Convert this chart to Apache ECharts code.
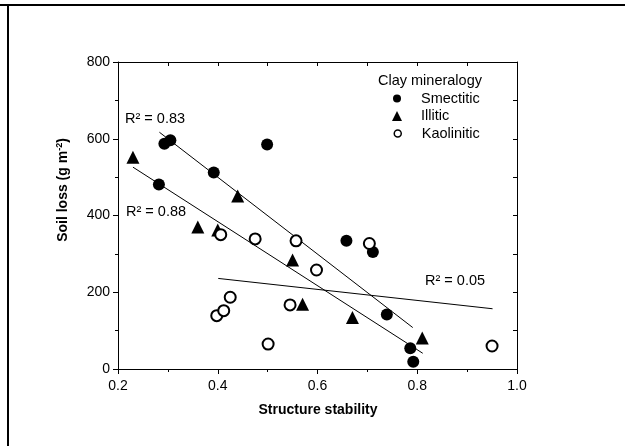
<!DOCTYPE html>
<html>
<head>
<meta charset="utf-8">
<script src="https://cdn.jsdelivr.net/npm/echarts@6/dist/echarts.min.js"></script>
<style>html,body{margin:0;padding:0;background:#fff;}#c{width:625px;height:446px;}</style>
</head>
<body>
<div id="c"></div>
<script>
// Data
var smectitic = [[0.282,481],[0.293,587],[0.305,596],[0.392,512],[0.499,585],[0.658,334],[0.711,305],[0.739,142],[0.786,54],[0.792,19]];
var illitic = [[0.230,552],[0.360,370],[0.400,362],[0.440,451],[0.550,284],[0.570,169],[0.670,134],[0.810,81]];
var kaolinitic = [[0.398,139],[0.406,350],[0.412,152],[0.425,187],[0.475,339],[0.501,65],[0.545,167],[0.557,334],[0.598,258],[0.704,327],[0.950,60]];
var fit083 = [[0.283,617],[0.791,108]];
var fit088 = [[0.230,526],[0.811,41]];
var fit005 = [[0.401,236],[0.951,157]];
var seriesNames = ['Smectitic','Illitic','Kaolinitic'];
var legendTitle = 'Clay mineralogy';
var xTitle = 'Structure stability';
var r2Labels = ['R\u00b2 = 0.83','R\u00b2 = 0.88','R\u00b2 = 0.05'];

var FONT = 'Liberation Sans, Arial, Helvetica, sans-serif';
var FS = 14.5;
var chart = echarts.init(document.getElementById('c'), null, {renderer:'canvas'});

function lineSeries(d){
  return {type:'line', data:d, symbol:'none', silent:true, z:1,
    lineStyle:{color:'#000', width:1}, xAxisIndex:0, yAxisIndex:0};
}
function legendAt(name, cy, size, itemStyle){
  var l = {data:[name], orient:'vertical', left:397 - size/2, top:cy - 7, itemWidth:size, itemHeight:size,
    selectedMode:false, itemGap:0, padding:0,
    textStyle:{fontFamily:FONT, fontSize:FS, color:'#000', lineHeight:14, padding:[0,0,0,421 - (397 + size/2) - 5]}};
  if (itemStyle) l.itemStyle = itemStyle;
  return l;
}

var option = {
  animation:false,
  backgroundColor:'#fff',
  grid:{left:118, top:62, width:399, height:307, show:false},
  xAxis:[
    {type:'value', min:0.2, max:1.0, interval:0.2, position:'bottom',
     axisLine:{show:true, onZero:false, lineStyle:{color:'#000', width:1}},
     axisTick:{show:true, length:5, lineStyle:{color:'#000'}},
     minorTick:{show:true, splitNumber:2, length:3, lineStyle:{color:'#000'}},
     splitLine:{show:false},
     axisLabel:{fontFamily:FONT, fontSize:14, color:'#000', margin:10,
       formatter:function(v){return v.toFixed(1);}}},
    {type:'value', min:0.2, max:1.0, interval:0.1, position:'top',
     axisLine:{show:true, onZero:false, lineStyle:{color:'#000', width:1}},
     axisTick:{show:true, inside:true, length:4, lineStyle:{color:'#000'}},
     splitLine:{show:false}, axisLabel:{show:false}}
  ],
  yAxis:[
    {type:'value', min:0, max:800, interval:200, position:'left',
     axisLine:{show:true, onZero:false, lineStyle:{color:'#000', width:1}},
     axisTick:{show:true, length:5, lineStyle:{color:'#000'}},
     minorTick:{show:true, splitNumber:2, length:3, lineStyle:{color:'#000'}},
     splitLine:{show:false},
     axisLabel:{fontFamily:FONT, fontSize:14, color:'#000', margin:8}},
    {type:'value', min:0, max:800, interval:100, position:'right',
     axisLine:{show:true, onZero:false, lineStyle:{color:'#000', width:1}},
     axisTick:{show:true, inside:true, length:4, lineStyle:{color:'#000'}},
     splitLine:{show:false}, axisLabel:{show:false}}
  ],
  legend:[
    legendAt(seriesNames[0], 98, 8),
    legendAt(seriesNames[1], 115.5, 10),
    legendAt(seriesNames[2], 133, 7, {borderWidth:1.5, borderColor:'#000', color:'#fff'})
  ],
  series:[
    lineSeries(fit083), lineSeries(fit088), lineSeries(fit005),
    {name:seriesNames[0], type:'scatter', data:smectitic, symbol:'circle', symbolSize:12, z:3,
     itemStyle:{color:'#000', opacity:1}},
    {name:seriesNames[1], type:'scatter', data:illitic, symbol:'triangle', symbolSize:13, z:3,
     itemStyle:{color:'#000', opacity:1}},
    {name:seriesNames[2], type:'scatter', data:kaolinitic, symbol:'circle', symbolSize:11, z:3,
     itemStyle:{color:'#fff', borderColor:'#000', borderWidth:2, opacity:1}}
  ],
  graphic:[
    {type:'rect', shape:{x:0, y:4, width:625, height:2}, style:{fill:'#000'}},
    {type:'rect', shape:{x:7, y:4, width:2, height:442}, style:{fill:'#000'}},
    {type:'text', x:378, y:81, style:{text:legendTitle, font:FS+'px '+FONT, fill:'#000', align:'left', verticalAlign:'middle'}},
    {type:'text', x:125, y:119, style:{text:r2Labels[0], font:FS+'px '+FONT, fill:'#000', align:'left', verticalAlign:'middle'}},
    {type:'text', x:126, y:212, style:{text:r2Labels[1], font:FS+'px '+FONT, fill:'#000', align:'left', verticalAlign:'middle'}},
    {type:'text', x:425, y:281, style:{text:r2Labels[2], font:FS+'px '+FONT, fill:'#000', align:'left', verticalAlign:'middle'}},
    {type:'text', x:318, y:410, style:{text:xTitle, font:'bold 14px '+FONT, fill:'#000', align:'center', verticalAlign:'middle'}},
    {type:'text', x:63, y:190, rotation:Math.PI/2,
     style:{text:'{b|Soil loss (g m}{s|-2}{b|)}', align:'center', verticalAlign:'middle', fill:'#000',
       rich:{b:{fontFamily:FONT, fontWeight:'bold', fontSize:14, fill:'#000', color:'#000'},
             s:{fontFamily:FONT, fontWeight:'bold', fontSize:9, fill:'#000', color:'#000', verticalAlign:'top', padding:[0,0,6,0]}}}}
  ]
};
chart.setOption(option);
</script>
</body>
</html>
